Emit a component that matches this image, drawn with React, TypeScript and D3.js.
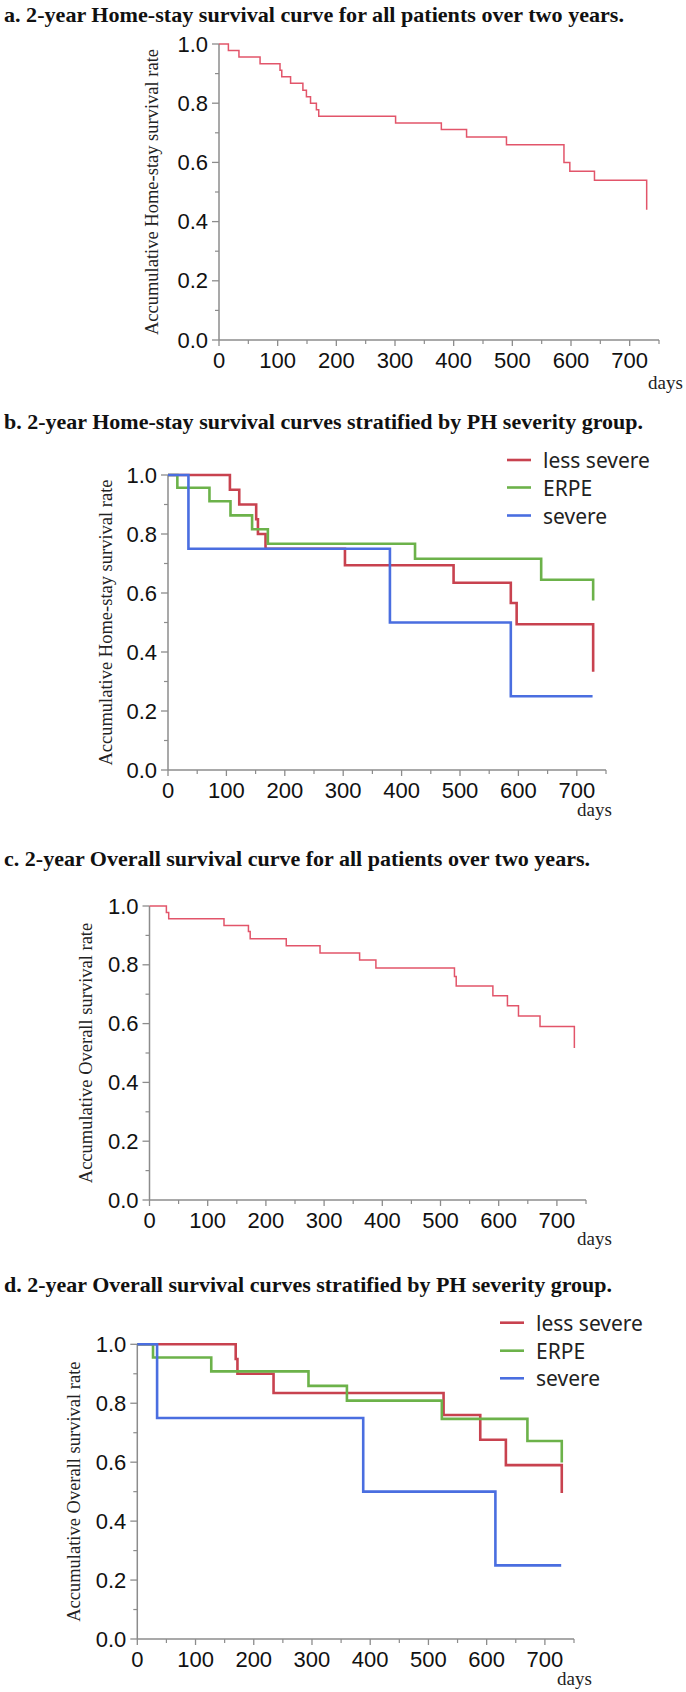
import { useEffect } from 'react';
import * as d3 from 'd3';

// ---- data ----
const xTickValues = [0, 100, 200, 300, 400, 500, 600, 700];
const xMinorValues = [50, 150, 250, 350, 450, 550, 650, 750];
const yTickValues = [0, 0.2, 0.4, 0.6, 0.8, 1.0];
const yMinorValues = [0.1, 0.3, 0.5, 0.7, 0.9];
const groupNames = ['less severe', 'ERPE', 'severe'];

// a. home-stay, all patients
const homeAllDays = [0, 16, 34, 70, 104, 107, 122, 143, 149, 156, 166, 170, 301, 379, 422, 490, 588, 598, 640, 729];
const homeAllSurv = [1, 0.978, 0.956, 0.933, 0.911, 0.889, 0.867, 0.844, 0.822, 0.8, 0.778, 0.756, 0.733, 0.711, 0.686, 0.66, 0.6, 0.57, 0.54, 0.44];

// b. home-stay by group
const homeLessDays = [0, 106, 122, 151, 154, 167, 303, 489, 587, 597, 728];
const homeLessSurv = [1, 0.95, 0.9, 0.85, 0.8, 0.75, 0.694, 0.635, 0.566, 0.494, 0.333];
const homeErpeDays = [0, 16, 71, 107, 144, 171, 423, 639, 728];
const homeErpeSurv = [1, 0.957, 0.911, 0.863, 0.816, 0.767, 0.716, 0.645, 0.575];
const homeSevereDays = [0, 35, 380, 587, 727];
const homeSevereSurv = [1, 0.75, 0.5, 0.25, 0.25];

// c. overall, all patients
const overallAllDays = [0, 29, 33, 128, 170, 173, 235, 293, 361, 389, 524, 527, 590, 615, 634, 671, 730];
const overallAllSurv = [1, 0.978, 0.957, 0.934, 0.913, 0.889, 0.865, 0.84, 0.816, 0.789, 0.76, 0.728, 0.695, 0.661, 0.626, 0.59, 0.517];

// d. overall by group
const overallLessDays = [0, 169, 172, 234, 526, 589, 633, 729];
const overallLessSurv = [1, 0.95, 0.9, 0.835, 0.76, 0.676, 0.59, 0.495];
const overallErpeDays = [0, 27, 127, 294, 360, 523, 670, 729];
const overallErpeSurv = [1, 0.955, 0.908, 0.859, 0.809, 0.747, 0.672, 0.599];
const overallSevereDays = [0, 34, 388, 615, 728];
const overallSevereSurv = [1, 0.75, 0.5, 0.25, 0.25];

const GROUP_COLORS = ['#c8424f', '#6cb24a', '#4a6ee0'];
const SINGLE_COLOR = '#e2556a';
const AXIS_COLOR = '#8c8c8c';

interface Series {
  days: number[];
  surv: number[];
  color: string;
  width: number;
}

interface PanelCfg {
  title: string;
  titleY: number;
  titleW: number;
  yLabel: string;
  x0: number;
  x1: number;
  yTop: number;
  yBottom: number;
  yLabelX: number;
  daysX: number;
  daysY: number;
  series: Series[];
  legend?: { lineX: number; textX: number; rows: number[] };
}

const panels: PanelCfg[] = [
  {
    title: 'a. 2-year Home-stay survival curve for all patients over two years.',
    titleY: 22, titleW: 620,
    yLabel: 'Accumulative Home-stay survival rate',
    x0: 219, x1: 659, yTop: 44, yBottom: 340, yLabelX: 152,
    daysX: 648, daysY: 389,
    series: [{ days: homeAllDays, surv: homeAllSurv, color: SINGLE_COLOR, width: 1.5 }]
  },
  {
    title: 'b. 2-year Home-stay survival curves stratified by PH severity group.',
    titleY: 429, titleW: 639,
    yLabel: 'Accumulative Home-stay survival rate',
    x0: 168, x1: 606, yTop: 475, yBottom: 770, yLabelX: 106,
    daysX: 577, daysY: 816,
    series: [
      { days: homeLessDays, surv: homeLessSurv, color: GROUP_COLORS[0], width: 2.6 },
      { days: homeErpeDays, surv: homeErpeSurv, color: GROUP_COLORS[1], width: 2.6 },
      { days: homeSevereDays, surv: homeSevereSurv, color: GROUP_COLORS[2], width: 2.6 }
    ],
    legend: { lineX: 507, textX: 543, rows: [460, 487.5, 515.5] }
  },
  {
    title: 'c. 2-year Overall survival curve for all patients over two years.',
    titleY: 866, titleW: 586,
    yLabel: 'Accumulative Overall survival rate',
    x0: 149.5, x1: 586, yTop: 906, yBottom: 1200, yLabelX: 86,
    daysX: 577, daysY: 1245,
    series: [{ days: overallAllDays, surv: overallAllSurv, color: SINGLE_COLOR, width: 1.5 }]
  },
  {
    title: 'd. 2-year Overall survival curves stratified by PH severity group.',
    titleY: 1292, titleW: 608,
    yLabel: 'Accumulative Overall survival rate',
    x0: 137.3, x1: 574, yTop: 1344.3, yBottom: 1639, yLabelX: 74,
    daysX: 557, daysY: 1685,
    series: [
      { days: overallLessDays, surv: overallLessSurv, color: GROUP_COLORS[0], width: 2.6 },
      { days: overallErpeDays, surv: overallErpeSurv, color: GROUP_COLORS[1], width: 2.6 },
      { days: overallSevereDays, surv: overallSevereSurv, color: GROUP_COLORS[2], width: 2.6 }
    ],
    legend: { lineX: 500, textX: 536, rows: [1322.7, 1350.7, 1378.3] }
  }
];

const SERIF = '"Liberation Serif", "Times New Roman", serif';
const SANS = '"Liberation Sans", Arial, sans-serif';

function Panel({ cfg }: { cfg: PanelCfg }) {
  const x = d3.scaleLinear().domain([0, 750]).range([cfg.x0, cfg.x1]);
  const y = d3.scaleLinear().domain([0, 1]).range([cfg.yBottom, cfg.yTop]);

  const line = d3.line<[number, number]>()
    .x(d => x(d[0]))
    .y(d => y(d[1]))
    .curve(d3.curveStepAfter);

  return (
    <g>
      <text x={4} y={cfg.titleY} fontFamily={SERIF} fontWeight="bold" fontSize={21}
        textLength={cfg.titleW} lengthAdjust="spacingAndGlyphs" fill="#111">
        {cfg.title}
      </text>

      {/* y label */}
      <text transform={`translate(${cfg.yLabelX},${(cfg.yTop + cfg.yBottom) / 2}) rotate(-90)`}
        textAnchor="middle" dominantBaseline="central" fontFamily={SERIF} fontSize={18.5} fill="#222">
        {cfg.yLabel}
      </text>

      {/* axes */}
      <line x1={cfg.x0} x2={cfg.x0} y1={y(1)} y2={y(0)} stroke={AXIS_COLOR} strokeWidth={1.5} />
      <line x1={cfg.x0} x2={x(750)} y1={y(0)} y2={y(0)} stroke={AXIS_COLOR} strokeWidth={1.5} />

      {yTickValues.map(v => (
        <g key={'y' + v}>
          <line x1={cfg.x0 - 7} x2={cfg.x0} y1={y(v)} y2={y(v)} stroke={AXIS_COLOR} strokeWidth={1.3} />
          <text x={cfg.x0 - 11} y={y(v)} textAnchor="end" dominantBaseline="central"
            fontFamily={SANS} fontSize={22} fill="#111">{v.toFixed(1)}</text>
        </g>
      ))}
      {yMinorValues.map(v => (
        <line key={'ym' + v} x1={cfg.x0 - 4} x2={cfg.x0} y1={y(v)} y2={y(v)} stroke={AXIS_COLOR} strokeWidth={1.2} />
      ))}

      {xTickValues.map(v => (
        <g key={'x' + v}>
          <line x1={x(v)} x2={x(v)} y1={y(0)} y2={y(0) + 6} stroke={AXIS_COLOR} strokeWidth={1.3} />
          <text x={x(v)} y={y(0) + 28} textAnchor="middle" fontFamily={SANS} fontSize={22} fill="#111">{v}</text>
        </g>
      ))}
      {xMinorValues.map(v => (
        <line key={'xm' + v} x1={x(v)} x2={x(v)} y1={y(0)} y2={y(0) + 4} stroke={AXIS_COLOR} strokeWidth={1.2} />
      ))}

      <text x={cfg.daysX} y={cfg.daysY} fontFamily={SERIF} fontSize={19} fill="#222">days</text>

      {/* curves */}
      {cfg.series.map((s, i) => (
        <path key={i}
          d={line(s.days.map((dd, k) => [dd, s.surv[k]] as [number, number])) || ''}
          fill="none" stroke={s.color} strokeWidth={s.width} strokeLinejoin="miter" />
      ))}

      {cfg.legend && groupNames.map((name, i) => (
        <g key={name}>
          <line x1={cfg.legend!.lineX} x2={cfg.legend!.lineX + 24}
            y1={cfg.legend!.rows[i]} y2={cfg.legend!.rows[i]}
            stroke={GROUP_COLORS[i]} strokeWidth={2.6} />
          <text x={cfg.legend!.textX} y={cfg.legend!.rows[i]} dominantBaseline="central"
            fontFamily={'"Noto Sans", sans-serif'} fontSize={21} fill="#222">{name}</text>
        </g>
      ))}
    </g>
  );
}

export default function App() {
  useEffect(() => {
    document.body.style.margin = '0';
  }, []);

  return (
    <svg width={686} height={1692} style={{ display: 'block', background: '#fff' }}>
      {panels.map((p, i) => <Panel key={i} cfg={p} />)}
    </svg>
  );
}
